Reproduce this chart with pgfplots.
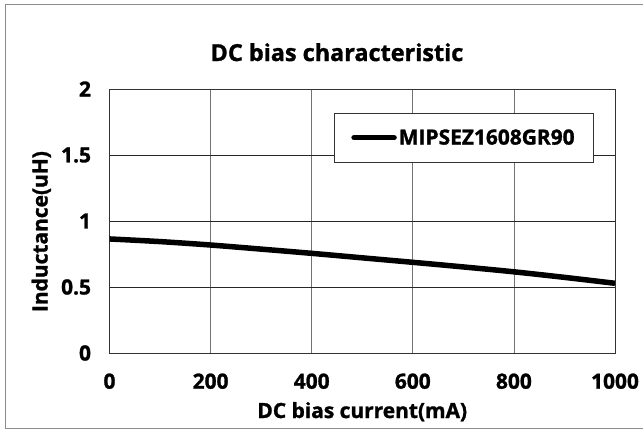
\documentclass[border=0pt]{standalone}
\usepackage{fontspec}
\setmainfont{Open Sans}[BoldFeatures={FakeBold=1.3}]
\usepackage{pgfplots}
\pgfplotsset{compat=1.18}

\begin{document}
\begin{tikzpicture}
\useasboundingbox (0,0) rectangle (643bp,430bp);
\draw[black!45, line width=0.8bp] (5bp,2bp) rectangle (660bp,426bp);
\begin{axis}[
    at={(109.5bp,77bp)}, anchor=south west,
    width=505.5bp, height=264bp, scale only axis,
    xmin=0, xmax=1000, ymin=0, ymax=2,
    xtick={0,200,...,1000}, ytick={0,0.5,...,2},
    major tick length=0pt,
    grid=major,
    x grid style={black!55, line width=0.8bp},
    y grid style={black!85, line width=0.8bp},
    axis line style={black!80, line width=0.8bp},
    /pgf/number format/assume math mode=true,
    /pgf/number format/1000 sep={},
    font=\fontsize{21}{24}\selectfont\bfseries,
    xticklabel style={anchor=north, yshift=-17bp},
    yticklabel style={anchor=east, xshift=-15bp},
    title={DC bias characteristic},
    title style={at={(axis description cs:0.45,1)}, anchor=base, yshift=22bp, font=\fontsize{23.5}{27}\selectfont\bfseries},
    xlabel={DC bias current(mA)},
    xlabel style={at={(axis description cs:0.5,0)}, anchor=base, yshift=-65bp},
    ylabel={Inductance(uH)},
    ylabel style={at={(axis description cs:-0.135,0.46)}, anchor=center},
    legend style={at={(axis description cs:0.444,0.909)}, anchor=north west,
        draw=black!80, line width=0.8bp, inner xsep=17bp, inner ysep=14bp,
        font=\fontsize{21}{24}\selectfont\bfseries},
    legend image code/.code={\draw[line width=5.5bp, line cap=round] (0bp,0bp) -- (40bp,0bp);},
]
\addplot[black, line width=5.5bp, smooth] coordinates {
    (0,0.864) (100,0.844) (200,0.818) (300,0.787) (400,0.755) (500,0.721)
    (600,0.687) (700,0.652) (800,0.615) (900,0.573) (1000,0.528)
};
\addlegendentry{MIPSEZ1608GR90}
\end{axis}
\end{tikzpicture}
\end{document}
